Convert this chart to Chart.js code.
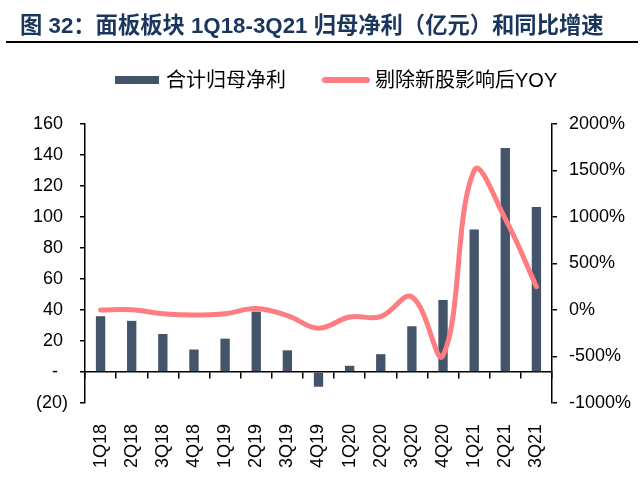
<!DOCTYPE html>
<html>
<head>
<meta charset="utf-8">
<script src="https://cdn.jsdelivr.net/npm/chart.js@4"></script>
<style>
  html, body { margin: 0; padding: 0; background: #fff; }
  #wrap { position: relative; width: 640px; height: 481px; overflow: hidden; font-family: "Liberation Sans", "Noto Sans CJK SC", sans-serif; }
  #title { position: absolute; left: 20px; top: 11px; font-family: "Liberation Sans", "Noto Sans CJK SC", sans-serif; font-weight: bold; font-size: 22.3px; color: #1b365d; white-space: nowrap; line-height: 30px; }
  #rule { position: absolute; left: 6px; top: 40.5px; width: 632px; height: 2.5px; background: #000; }
  .leg { position: absolute; top: 66px; height: 28px; line-height: 28px; font-size: 20px; color: #000; white-space: nowrap; }
  .sw { position: absolute; }
  canvas { position: absolute; left: 0; top: 0; }
</style>
</head>
<body>
<div id="wrap">
  <canvas id="c" width="640" height="481"></canvas>
  <div id="title">图 32：面板板块 1Q18-3Q21 归母净利（亿元）和同比增速</div>
  <div id="rule"></div>
  <div class="sw" style="left:115px; top:76px; width:44px; height:8px; background:#44546A;"></div>
  <div class="leg" style="left:166px;">合计归母净利</div>
  <div class="sw" style="left:322px; top:77px; width:48px; height:6px; border-radius:3px; background:#FF7C80;"></div>
  <div class="leg" style="left:375px;">剔除新股影响后YOY</div>
</div>
<script>
const categories = ['1Q18','2Q18','3Q18','4Q18','1Q19','2Q19','3Q19','4Q19','1Q20','2Q20','3Q20','4Q20','1Q21','2Q21','3Q21'];
const netProfit = [36, 33, 24.5, 14.5, 21.5, 39, 14, -9.5, 4, 11.5, 29.5, 46.5, 92, 144.5, 106.5];
const yoyPct = [0, 2, -40, -55, -40, 15, -60, -195, -75, -70, 140, -490, 1500, 980, 250];
const leftTicks = [-20, 0, 20, 40, 60, 80, 100, 120, 140, 160];
const rightTicks = [-1000, -500, 0, 500, 1000, 1500, 2000];

const FONT = "'Liberation Sans', Arial, sans-serif";

function leftLabel(v) {
  if (v === 0) return '-  ';
  if (v < 0) return '(' + Math.abs(v) + ')';
  return v + ' ';
}

new Chart(document.getElementById('c'), {
  type: 'bar',
  data: {
    labels: categories,
    datasets: [
      {
        type: 'line',
        label: '剔除新股影响后YOY',
        data: yoyPct,
        yAxisID: 'y1',
        xAxisID: 'x',
        borderColor: '#FF7C80',
        borderWidth: 5,
        borderCapStyle: 'round',
        borderJoinStyle: 'round',
        tension: 0.4,
        pointRadius: 0,
        fill: false,
        order: 0
      },
      {
        type: 'bar',
        label: '合计归母净利',
        data: netProfit,
        yAxisID: 'y',
        xAxisID: 'x',
        backgroundColor: '#44546A',
        barPercentage: 0.3,
        categoryPercentage: 1.0,
        order: 1
      }
    ]
  },
  options: {
    responsive: false,
    animation: false,
    devicePixelRatio: 1,
    layout: { padding: { top: 124, left: 0, right: 0, bottom: 0 } },
    plugins: { legend: { display: false }, tooltip: { enabled: false }, title: { display: false } },
    scales: {
      x: {
        type: 'category',
        position: 'bottom',
        offset: true,
        border: { display: false },
        grid: { display: false },
        ticks: { minRotation: 90, maxRotation: 90, autoSkip: false, padding: 13, color: '#000', font: { family: FONT, size: 18 } },
        afterFit: (s) => { s.height = 78; }
      },
      x2: {
        type: 'category',
        labels: categories,
        position: { y: 0 },
        offset: true,
        border: { display: true, color: '#000', width: 1.5 },
        grid: { display: true, drawOnChartArea: false, drawTicks: true, tickLength: 6, color: '#000', lineWidth: 1.5, offset: true },
        ticks: { display: false }
      },
      y: {
        type: 'linear',
        position: 'left',
        min: -20,
        max: 160,
        afterBuildTicks: (s) => { s.ticks = leftTicks.map(v => ({ value: v })); },
        border: { display: true, color: '#000', width: 1.5 },
        grid: { display: true, drawOnChartArea: false, drawTicks: true, tickLength: 5, color: '#000', lineWidth: 1.5 },
        ticks: { padding: 12, color: '#000', font: { family: FONT, size: 18 }, callback: (v) => leftLabel(v) },
        afterFit: (s) => { s.width = 85; }
      },
      y1: {
        type: 'linear',
        position: 'right',
        min: -1000,
        max: 2000,
        afterBuildTicks: (s) => { s.ticks = rightTicks.map(v => ({ value: v })); },
        border: { display: true, color: '#000', width: 1.5 },
        grid: { display: true, drawOnChartArea: false, drawTicks: true, tickLength: 5, color: '#000', lineWidth: 1.5 },
        ticks: { padding: 12, color: '#000', font: { family: FONT, size: 18 }, callback: (v) => v + '%' },
        afterFit: (s) => { s.width = 88; }
      }
    }
  }
});
</script>
</body>
</html>
